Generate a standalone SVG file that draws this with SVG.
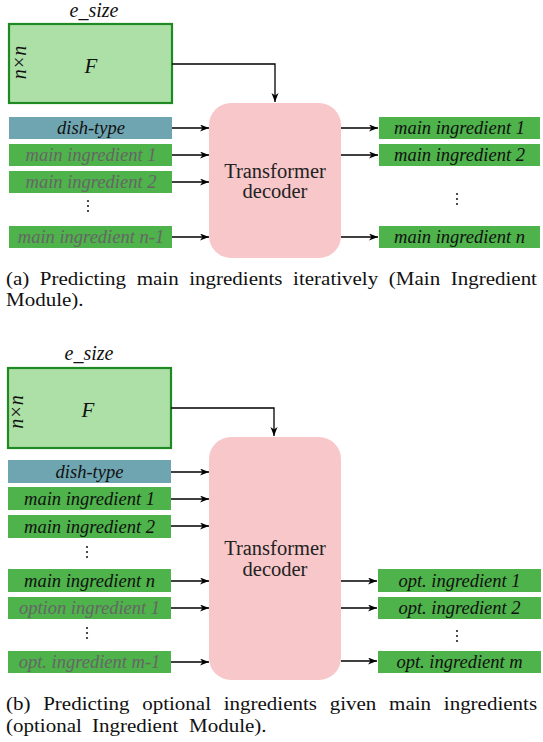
<svg xmlns="http://www.w3.org/2000/svg" width="543" height="742" viewBox="0 0 543 742">
<defs>
<marker id="ah" markerUnits="userSpaceOnUse" markerWidth="10" markerHeight="8" refX="9" refY="3.5" orient="auto">
<path d="M0,0 L9,3.5 L0,7 L2.5,3.5 Z" fill="#000"/>
</marker>
<style>
.fbox{fill:#ade0a6;stroke:#1f8a23;stroke-width:2.2}
.dish{fill:#6fa5b0}
.grn{fill:#4db34a}
.tr{fill:#f8c7ca}
text{font-family:'Liberation Serif','Times New Roman',Times,'DejaVu Serif',serif}
.lbl{font-style:italic;font-size:18.5px;text-anchor:middle;fill:#111}
.gry{fill:#666}
.big{font-style:italic;font-size:21px;text-anchor:middle;fill:#111}
.es{font-style:italic;font-size:20px;text-anchor:middle;fill:#111}
.nn{font-style:italic;font-size:20px;text-anchor:middle;fill:#111}
.tt{font-size:20.5px;text-anchor:middle;fill:#222}
.cap{font-size:19px;fill:#111}
.ar{fill:none;stroke:#000;stroke-width:1.3;marker-end:url(#ah)}
.dot{fill:#222}
</style>
</defs>

<!-- Panel (a) -->
<g id="a_F">
<text class="es" x="94" y="17">e_size</text>
<rect class="fbox" x="9" y="24" width="163" height="79"/>
<text class="nn" transform="translate(26,62.5) rotate(-90)">n×n</text>
<text class="big" x="91" y="73">F</text>
</g>
<g id="a_decoder">
<rect class="tr" x="209" y="103" width="132" height="155" rx="22"/>
<text class="tt" x="275" y="178">Transformer</text>
<text class="tt" x="275" y="198">decoder</text>
</g>
<g id="a_in_dish"><rect class="dish" x="9" y="117" width="163" height="22"/><text class="lbl" x="91" y="134">dish-type</text></g>
<g id="a_in_mi1"><rect class="grn" x="9" y="144" width="163" height="22"/><text class="lbl gry" x="91" y="161">main ingredient 1</text></g>
<g id="a_in_mi2"><rect class="grn" x="9" y="171" width="163" height="22"/><text class="lbl gry" x="91" y="188">main ingredient 2</text></g>
<g id="a_in_dots"><circle class="dot" cx="88" cy="201" r="1.1"/><circle class="dot" cx="88" cy="206" r="1.1"/><circle class="dot" cx="88" cy="211" r="1.1"/></g>
<g id="a_in_min1"><rect class="grn" x="9" y="226" width="163" height="22"/><text class="lbl gry" x="91" y="243">main ingredient n-1</text></g>
<g id="a_out_1"><rect class="grn" x="379" y="117" width="161" height="22"/><text class="lbl" x="459.5" y="134">main ingredient 1</text></g>
<g id="a_out_2"><rect class="grn" x="379" y="144" width="161" height="22"/><text class="lbl" x="459.5" y="161">main ingredient 2</text></g>
<g id="a_out_dots"><circle class="dot" cx="457" cy="194" r="1.1"/><circle class="dot" cx="457" cy="199" r="1.1"/><circle class="dot" cx="457" cy="204" r="1.1"/></g>
<g id="a_out_n"><rect class="grn" x="379" y="226" width="161" height="22"/><text class="lbl" x="459.5" y="243">main ingredient n</text></g>

<!-- Panel (b) -->
<g id="b_F">
<text class="es" x="89" y="360">e_size</text>
<rect class="fbox" x="8" y="368" width="163" height="80"/>
<text class="nn" transform="translate(23,412) rotate(-90)">n×n</text>
<text class="big" x="88" y="417">F</text>
</g>
<g id="b_decoder">
<rect class="tr" x="209" y="437" width="132" height="243" rx="22"/>
<text class="tt" x="275" y="555">Transformer</text>
<text class="tt" x="275" y="576">decoder</text>
</g>
<g id="b_in_dish"><rect class="dish" x="8" y="460" width="163" height="23"/><text class="lbl" x="89.5" y="477.5">dish-type</text></g>
<g id="b_in_mi1"><rect class="grn" x="8" y="487" width="163" height="23"/><text class="lbl" x="89.5" y="504.5">main ingredient 1</text></g>
<g id="b_in_mi2"><rect class="grn" x="8" y="515" width="163" height="23"/><text class="lbl" x="89.5" y="532.5">main ingredient 2</text></g>
<g id="b_in_dots1"><circle class="dot" cx="87" cy="547" r="1.1"/><circle class="dot" cx="87" cy="552" r="1.1"/><circle class="dot" cx="87" cy="557" r="1.1"/></g>
<g id="b_in_min"><rect class="grn" x="8" y="569" width="163" height="23"/><text class="lbl" x="89.5" y="586.5">main ingredient n</text></g>
<g id="b_in_opt1"><rect class="grn" x="8" y="597" width="163" height="22"/><text class="lbl gry" x="89.5" y="614">option ingredient 1</text></g>
<g id="b_in_dots2"><circle class="dot" cx="87" cy="628" r="1.1"/><circle class="dot" cx="87" cy="633" r="1.1"/><circle class="dot" cx="87" cy="638" r="1.1"/></g>
<g id="b_in_optm1"><rect class="grn" x="8" y="651" width="163" height="22"/><text class="lbl gry" x="89.5" y="668">opt. ingredient m-1</text></g>
<g id="b_out_1"><rect class="grn" x="378" y="569" width="163" height="23"/><text class="lbl" x="459.5" y="586.5">opt. ingredient 1</text></g>
<g id="b_out_2"><rect class="grn" x="378" y="597" width="163" height="22"/><text class="lbl" x="459.5" y="614">opt. ingredient 2</text></g>
<g id="b_out_dots"><circle class="dot" cx="457" cy="631" r="1.1"/><circle class="dot" cx="457" cy="636" r="1.1"/><circle class="dot" cx="457" cy="641" r="1.1"/></g>
<g id="b_out_m"><rect class="grn" x="378" y="651" width="163" height="22"/><text class="lbl" x="459.5" y="668">opt. ingredient m</text></g>

<g id="connectors">
<path class="ar" d="M172,64 H275 V102"/>
<path class="ar" d="M172,128 H209"/>
<path class="ar" d="M172,155 H209"/>
<path class="ar" d="M172,182 H209"/>
<path class="ar" d="M172,237 H209"/>
<path class="ar" d="M341,128 H378"/>
<path class="ar" d="M341,155 H378"/>
<path class="ar" d="M341,237 H378"/>
<path class="ar" d="M171,408 H274 V436"/>
<path class="ar" d="M171,472 H209"/>
<path class="ar" d="M171,499 H209"/>
<path class="ar" d="M171,526 H209"/>
<path class="ar" d="M171,581 H209"/>
<path class="ar" d="M171,608 H209"/>
<path class="ar" d="M171,662 H209"/>
<path class="ar" d="M341,581 H377"/>
<path class="ar" d="M341,608 H377"/>
<path class="ar" d="M341,661 H377"/>
</g>

<g id="captions" transform="scale(1.1053,1)">
<text class="cap" y="285"><tspan x="5.43">(a)</tspan><tspan x="36.05">Predicting</tspan><tspan x="123.68">main</tspan><tspan x="171.22">ingredients</tspan><tspan x="265.18">iteratively</tspan><tspan x="351.81">(Main</tspan><tspan x="407.77">Ingredient</tspan></text>
<text class="cap" x="5.43" y="306">Module).</text>
<text class="cap" y="710"><tspan x="5.43">(b)</tspan><tspan x="39.08">Predicting</tspan><tspan x="128.65">optional</tspan><tspan x="202.39">ingredients</tspan><tspan x="298.29">given</tspan><tspan x="352.03">main</tspan><tspan x="401.52">ingredients</tspan></text>
<text class="cap" y="732"><tspan x="5.43">(optional</tspan><tspan x="83.24">Ingredient</tspan><tspan x="171">Module).</tspan></text>
</g>
</svg>
